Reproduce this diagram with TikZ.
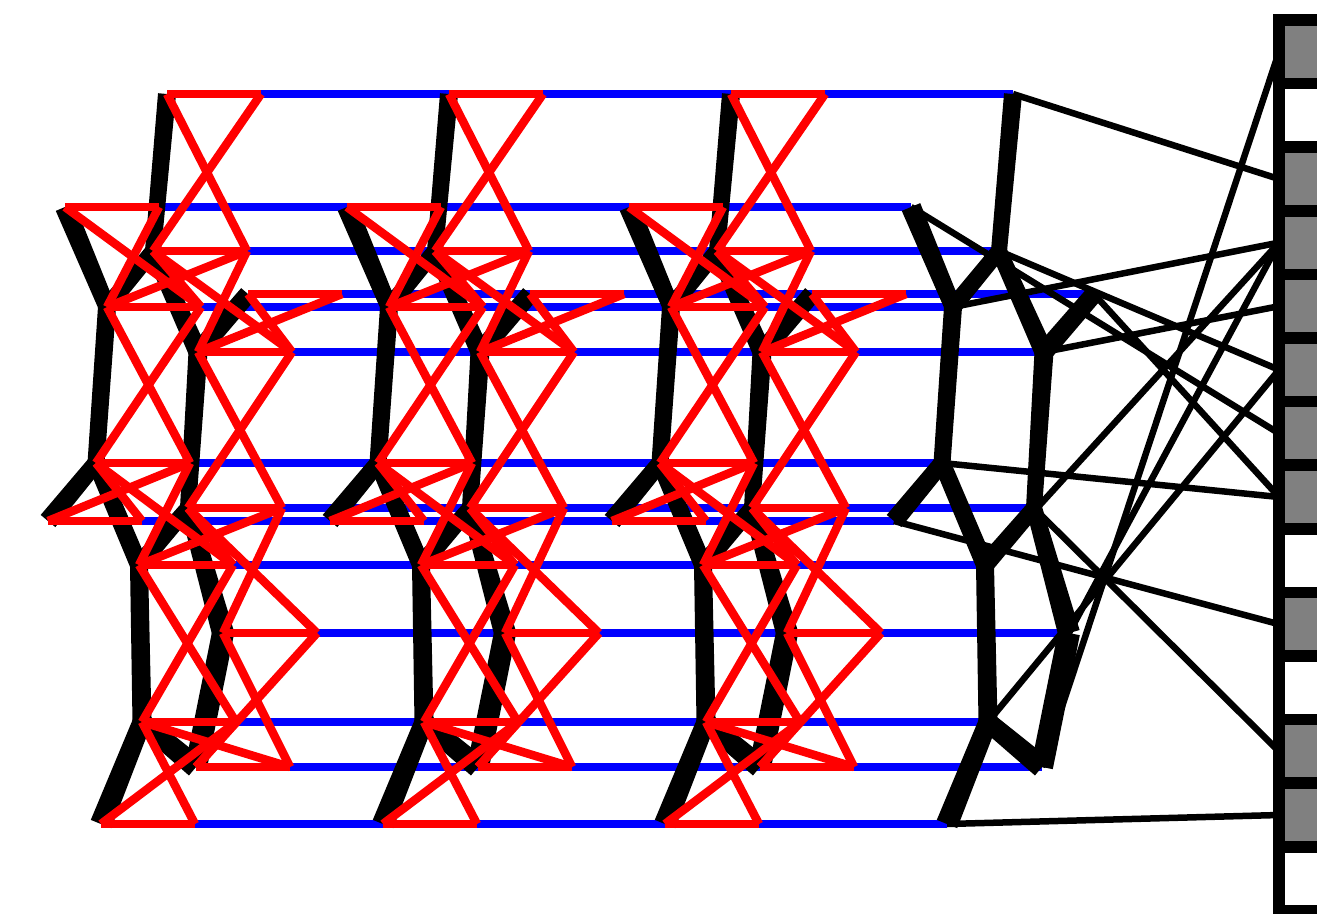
\documentclass[tikz,border=0pt]{standalone}
\usetikzlibrary{calc}

\tikzset{
  redbond/.style={draw=red, line width=8.5pt},
  bluebond/.style={draw=blue, line width=8.5pt},
  link/.style={draw=black, line width=6.5pt},
  cellbox/.style={draw=black, line width=11.5pt, minimum width=80pt, minimum height=63.6pt, inner sep=0pt, outer sep=0pt},
}

% tapered black bond: atoms #1 and #2, half widths #3 and #4
\newcommand{\tbond}[4]{%
  \fill ($(#1)!#3pt!90:(#2)$) -- ($(#1)!#3pt!-90:(#2)$) -- ($(#2)!#4pt!90:(#1)$) -- ($(#2)!#4pt!-90:(#1)$) -- cycle;}

\begin{document}
\begin{tikzpicture}[x=1pt, y=-1pt]
  \useasboundingbox (0,0) rectangle (1317,913);
  \clip (0,0) rectangle (1317,913);

  % --- atoms of one cell, four copies, plus shifted points ---
  \foreach \a/\x/\y in {A/167/94, B/65/207, C/153/251, D/107/307, E/248/294, F/198/352, G/96/463,
                        H/48/521, I/188/508, J/139/565, K/223/633, L/142/722, M/196/767, N/101/824}{
    \foreach \k in {0,...,3}{
      \coordinate (\a\k) at ({\x+282*\k},\y);
      \coordinate (s\a\k) at ({\x+282*\k+94},\y);
    }
  }

  % --- blue links between copies ---
  \foreach \a in {A,...,N}{
    \foreach \k [evaluate=\k as \n using int(\k+1)] in {0,1,2}{
      \draw[bluebond] (\a\k) -- (\a\n);
    }
  }

  % --- black bonds ---
  \foreach \p/\q/\hp/\hq in {A/C/9/8, B/D/10/8.5, C/D/8/8.5, C/F/8/9.5, E/F/9/9.5, D/G/9/8.5, F/I/9.5/8,
                             G/H/8.5/9.5, G/J/8.5/9, I/J/8/9, I/K/8/11, J/L/9/9.5, K/M/11/11, L/M/9.5/11, L/N/9.5/11}{
    \foreach \k in {0,...,3}{
      \tbond{\p\k}{\q\k}{\hp}{\hq}
    }
  }

  % --- red bonds (first three copies) ---
  \foreach \k in {0,1,2}{
    \foreach \a in {A,...,N}{
      \draw[redbond] (\a\k) -- (s\a\k);
    }
    \foreach \p/\q in {A/C, B/D, C/D, C/F, E/F, D/G, F/I, G/H, G/J, I/J, I/K, J/L, K/M, L/M, L/N}{
      \draw[redbond] (\p\k) -- (s\q\k);
      \draw[redbond] (s\p\k) -- (\q\k);
    }
  }

  % --- column of cells ---
  \foreach \n/\c in {1/gray, 2/white, 3/gray, 4/gray, 5/gray, 6/gray, 7/gray,
                     8/gray, 9/white, 10/gray, 11/white, 12/gray, 13/gray, 14/white}{
    \node[cellbox, fill=\c] (cell\n) at (1319,{20+63.6*(\n-0.5)}) {};
  }

  % --- last copy to cells ---
  \foreach \a/\n in {A/3, B/7, C/6, D/4, E/8, F/5, G/8, H/10, I/12, J/4, K/4, L/6, M/1, N/13}{
    \draw[link] (\a3) -- (cell\n.west);
  }
\end{tikzpicture}
\end{document}
